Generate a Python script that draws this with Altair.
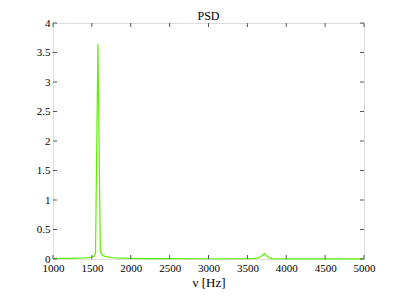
import altair as alt
import pandas as pd

freq = [1000, 1100, 1200, 1300, 1400, 1450, 1500, 1531, 1547, 1578, 1609, 1640, 1672, 1700, 1750, 1800, 1900, 2000,
        2200, 2500, 2800, 3000, 3300, 3500, 3600, 3650, 3690, 3720, 3750, 3780, 3820, 3900, 4000, 4500, 5000]
psd = [0.010, 0.011, 0.012, 0.014, 0.018, 0.022, 0.030, 0.045, 0.110, 3.640, 0.120, 0.060, 0.045, 0.035, 0.025, 0.020, 0.014, 0.010,
       0.007, 0.005, 0.004, 0.004, 0.004, 0.006, 0.010, 0.025, 0.055, 0.090, 0.050, 0.020, 0.008, 0.004, 0.002, 0.001, 0.001]

xvals = [1000, 1500, 2000, 2500, 3000, 3500, 4000, 4500, 5000]
yvals = [0, 0.5, 1, 1.5, 2, 2.5, 3, 3.5, 4]

df = pd.DataFrame({"f": freq, "p": psd})
xt = pd.DataFrame({"t": xvals})
yt = pd.DataFrame({"t": yvals})

FONT = "Liberation Serif"
GREEN = "#5cf000"
TICK = "#555555"
W, H, TL = 311, 236, 4

xs = alt.Scale(domain=[1000, 5000], nice=False, zero=False)
ys = alt.Scale(domain=[0, 4], nice=False)

xaxis = alt.Axis(values=xvals, format="d", ticks=False, domain=False, grid=False,
                 labelPadding=3, titlePadding=3, labelOverlap=False,
                 labelFont=FONT, labelFontSize=11, labelColor="black",
                 titleFont=FONT, titleFontSize=13, titleFontWeight="normal", titleColor="black",
                 labelFlush=False)
yaxis = alt.Axis(values=yvals, format="~g", ticks=False, domain=False, grid=False,
                 labelPadding=3, labelOverlap=False,
                 labelFont=FONT, labelFontSize=11, labelColor="black", labelFlush=False)

main = alt.Chart(df).mark_line(color=GREEN, strokeWidth=1.2).encode(
    x=alt.X("f:Q", scale=xs, title="ν [Hz]", axis=xaxis),
    y=alt.Y("p:Q", scale=ys, title=None, axis=yaxis),
)

xticks_bottom = alt.Chart(xt).mark_rule(color=TICK, strokeWidth=1).encode(
    x=alt.X("t:Q", scale=xs, title="ν [Hz]", axis=xaxis), y=alt.value(H - TL), y2=alt.value(H))
xticks_top = alt.Chart(xt).mark_rule(color=TICK, strokeWidth=1).encode(
    x=alt.X("t:Q", scale=xs, title="ν [Hz]", axis=xaxis), y=alt.value(0), y2=alt.value(TL))
yticks_left = alt.Chart(yt).mark_rule(color=TICK, strokeWidth=1).encode(
    y=alt.Y("t:Q", scale=ys, title=None, axis=yaxis), x=alt.value(0), x2=alt.value(TL))
yticks_right = alt.Chart(yt).mark_rule(color=TICK, strokeWidth=1).encode(
    y=alt.Y("t:Q", scale=ys, title=None, axis=yaxis), x=alt.value(W - TL), x2=alt.value(W))

chart = alt.layer(main, xticks_bottom, xticks_top, yticks_left, yticks_right).properties(
    width=W, height=H,
    title=alt.TitleParams("PSD", font=FONT, fontSize=12, fontWeight="normal", color="black", offset=-6),
    autosize=alt.AutoSizeParams(type="none"),
    padding={"left": 45, "top": 15, "right": 35, "bottom": 36},
).configure_view(stroke=TICK, strokeWidth=1).configure(background="white")

chart.save("out.html", embed_options={"renderer": "svg", "actions": False})
